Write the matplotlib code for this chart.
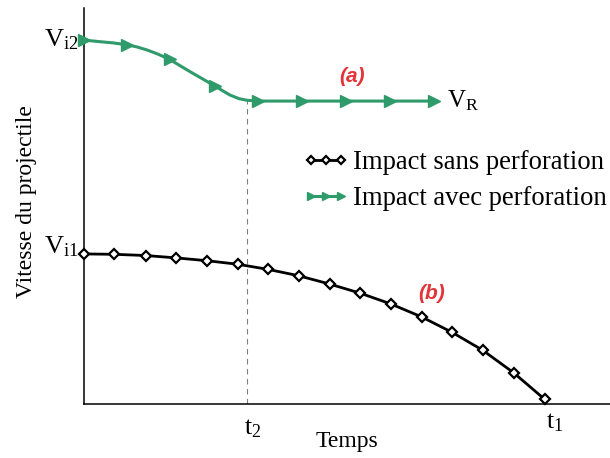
import matplotlib
matplotlib.use("Agg")
import matplotlib.pyplot as plt

plt.rcParams['font.family'] = ['Liberation Serif', 'DejaVu Serif']
plt.rcParams['mathtext.default'] = 'regular'

# curve (b): impact sans perforation
t_b = [0, 0.58, 1.17, 1.75, 2.33, 2.92, 3.50, 4.08, 4.67, 5.25, 5.83, 6.42, 7.00, 7.58, 8.17, 8.76]
v_b = [3.79, 3.78, 3.75, 3.69, 3.62, 3.53, 3.40, 3.24, 3.03, 2.80, 2.53, 2.20, 1.81, 1.36, 0.79, 0.12]

# curve (a): impact avec perforation
t_a = [0, 0.30, 0.55, 0.82, 1.00, 1.20, 1.40, 1.63, 2.02, 2.49, 2.65, 2.78, 2.95, 3.10, 3.31,
       4.14, 4.98, 5.82, 6.65]
v_a = [9.19, 9.15, 9.12, 9.07, 9.02, 8.94, 8.84, 8.70, 8.39, 8.03, 7.90, 7.80, 7.71, 7.67, 7.65,
       7.65, 7.65, 7.65, 7.65]
marks_a = [0, 3, 7, 9, 14, 15, 16, 17, 18]

t1 = 8.76
t2 = 3.10
green = '#2f9a6a'
red = '#e3343a'

fig = plt.figure(figsize=(6.1, 4.58), dpi=100)
ax = fig.add_axes([0.1377, 0.1179, 0.862, 0.8646])

ax.plot(t_b, v_b, color='black', lw=2.0, marker='D', markersize=4.8,
        markerfacecolor='white', markeredgecolor='black', markeredgewidth=1.6,
        label='Impact sans perforation', clip_on=False, zorder=3)
ax.plot(t_a, v_a, color=green, lw=2.2, marker='>', markersize=8,
        markevery=marks_a, label='Impact avec perforation', clip_on=False, zorder=3)

ax.plot([t2, t2], [0, v_a[13]], color='gray', lw=0.8, ls=(0, (5, 4)), zorder=1)

ax.set_xlim(0, 10)
ax.set_ylim(0, 10)
ax.set_xticks([])
ax.set_yticks([])
for s in ['top', 'right']:
    ax.spines[s].set_visible(False)
for s in ['left', 'bottom']:
    ax.spines[s].set_linewidth(1.1)

ax.text(-0.11, 9.02, 'V$_{i2}$', fontsize=19, ha='right', va='baseline', clip_on=False)
ax.text(-0.11, 3.81, 'V$_{i1}$', fontsize=19, ha='right', va='baseline', clip_on=False)
ax.text(6.90, 7.50, 'V$_R$', fontsize=18, ha='left', va='baseline')
ax.text(t2 + 0.1, -0.78, 't$_2$', fontsize=18.5, ha='center', va='baseline', clip_on=False)
ax.text(t1 + 0.2, -0.61, 't$_1$', fontsize=18.5, ha='center', va='baseline', clip_on=False)

ax.text(5.09, 8.28, '(a)', color=red, fontsize=15, fontweight='bold', fontstyle='italic',
        family='Liberation Sans', ha='center', va='center')
ax.text(6.62, 2.80, '(b)', color=red, fontsize=15, fontweight='bold', fontstyle='italic',
        family='Liberation Sans', ha='center', va='center')

ax.set_xlabel('Temps', fontsize=17)
ax.xaxis.set_label_coords(0.501, -0.068)
ax.set_ylabel('Vitesse du projectile', fontsize=17)
ax.yaxis.set_label_coords(-0.09, 0.51)

ax.legend(loc='upper left', bbox_to_anchor=(0.497, 0.672), bbox_transform=fig.transFigure,
          frameon=False, fontsize=19.2, numpoints=3, markerscale=0.8, handlelength=1.7,
          handletextpad=0.15, labelspacing=0.4, borderpad=0, borderaxespad=0)

fig.savefig('out.png', dpi=100)
